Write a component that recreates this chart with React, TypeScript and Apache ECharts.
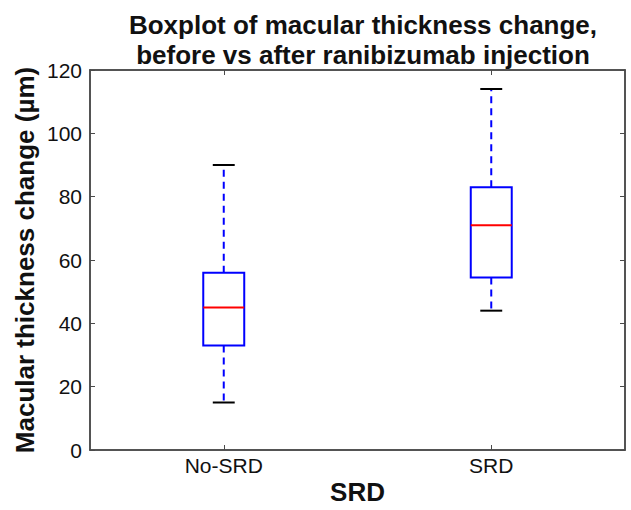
import React, { useEffect, useRef } from "react";
import * as echarts from "echarts";

const categories = ["No-SRD", "SRD"];
const whiskerLow = [15, 44];
const quartile1 = [33, 54.5];
const medians = [45, 71];
const quartile3 = [56, 83];
const whiskerHigh = [90, 114];
const yTicks = [0, 20, 40, 60, 80, 100, 120];

const FONT = "'Liberation Sans', Arial, Helvetica, sans-serif";
const AXIS_COLOR = "#4a4a4a";
const TEXT_COLOR = "#111111";

export default function App() {
  const ref = useRef<HTMLDivElement>(null);

  useEffect(() => {
    if (!ref.current) return;
    document.body.style.margin = "0";
    const chart = echarts.init(ref.current, null, { renderer: "svg" });

    const data = categories.map((_, i) => [
      i,
      whiskerLow[i],
      quartile1[i],
      medians[i],
      quartile3[i],
      whiskerHigh[i],
    ]);

    const renderItem = (params: any, api: any) => {
      const idx = api.value(0);
      const pLow = api.coord([idx, api.value(1)]);
      const pQ1 = api.coord([idx, api.value(2)]);
      const pMed = api.coord([idx, api.value(3)]);
      const pQ3 = api.coord([idx, api.value(4)]);
      const pHigh = api.coord([idx, api.value(5)]);
      const band = api.size([1, 0])[0];
      const halfBox = band * 0.0766;
      const halfCap = band * 0.041;
      const x = pMed[0];
      const dashStyle = { stroke: "#0000ff", lineWidth: 2, lineDash: [7, 5] };
      const capStyle = { stroke: "#000000", lineWidth: 2 };
      return {
        type: "group",
        children: [
          { type: "line", shape: { x1: x, y1: pQ3[1], x2: x, y2: pHigh[1] }, style: dashStyle },
          { type: "line", shape: { x1: x, y1: pQ1[1], x2: x, y2: pLow[1] }, style: dashStyle },
          { type: "line", shape: { x1: x - halfCap, y1: pHigh[1], x2: x + halfCap, y2: pHigh[1] }, style: capStyle },
          { type: "line", shape: { x1: x - halfCap, y1: pLow[1], x2: x + halfCap, y2: pLow[1] }, style: capStyle },
          {
            type: "rect",
            shape: { x: x - halfBox, y: pQ3[1], width: halfBox * 2, height: pQ1[1] - pQ3[1] },
            style: { fill: "none", stroke: "#0000ff", lineWidth: 2 },
          },
          {
            type: "line",
            shape: { x1: x - halfBox, y1: pMed[1], x2: x + halfBox, y2: pMed[1] },
            style: { stroke: "#ff0000", lineWidth: 2 },
          },
        ],
      };
    };

    const baseX = {
      type: "category",
      data: categories,
      boundaryGap: true,
      axisLine: { show: true, onZero: false, lineStyle: { color: AXIS_COLOR, width: 1.5 } },
      axisTick: { show: true, inside: true, alignWithLabel: true, length: 5, lineStyle: { color: AXIS_COLOR } },
      splitLine: { show: false },
    };
    const baseY = {
      type: "value",
      min: yTicks[0],
      max: yTicks[yTicks.length - 1],
      interval: yTicks[1] - yTicks[0],
      axisLine: { show: true, onZero: false, lineStyle: { color: AXIS_COLOR, width: 1.5 } },
      axisTick: { show: true, inside: true, length: 5, lineStyle: { color: AXIS_COLOR } },
      splitLine: { show: false },
    };

    chart.setOption({
      animation: false,
      backgroundColor: "#ffffff",
      title: {
        text: "Boxplot of macular thickness change,\nbefore vs after ranibizumab injection",
        left: 358,
        textAlign: "center",
        top: 5,
        textStyle: {
          fontFamily: FONT,
          fontSize: 26,
          fontWeight: "bold",
          color: TEXT_COLOR,
          lineHeight: 30,
        },
      },
      grid: {
        left: 90,
        right: 6,
        top: 70,
        bottom: 60,
        containLabel: false,
        show: true,
        borderColor: AXIS_COLOR,
        borderWidth: 1.5,
        backgroundColor: "transparent",
      },
      xAxis: [
        {
          ...baseX,
          position: "bottom",
          name: "SRD",
          nameLocation: "middle",
          nameGap: 29,
          nameMoveOverlap: false,
          nameTextStyle: { fontFamily: FONT, fontSize: 26, fontWeight: "bold", color: TEXT_COLOR, lineHeight: 26 },
          axisLabel: { show: true, fontFamily: FONT, fontSize: 21, color: TEXT_COLOR, margin: 5 },
        },
        {
          ...baseX,
          position: "top",
          axisLabel: { show: false },
        },
      ],
      yAxis: [
        {
          ...baseY,
          position: "left",
          name: "Macular thickness change (µm)",
          nameLocation: "middle",
          nameGap: 52,
          nameMoveOverlap: false,
          nameTextStyle: { fontFamily: FONT, fontSize: 26, fontWeight: "bold", color: TEXT_COLOR, lineHeight: 26 },
          axisLabel: { show: true, fontFamily: FONT, fontSize: 21, color: TEXT_COLOR, margin: 8 },
        },
        {
          ...baseY,
          position: "right",
          axisLabel: { show: false },
        },
      ],
      series: [
        {
          type: "custom",
          xAxisIndex: 0,
          yAxisIndex: 0,
          renderItem,
          data,
          clip: false,
        },
      ],
    });

    return () => chart.dispose();
  }, []);

  return <div ref={ref} style={{ width: 631, height: 510 }} />;
}
